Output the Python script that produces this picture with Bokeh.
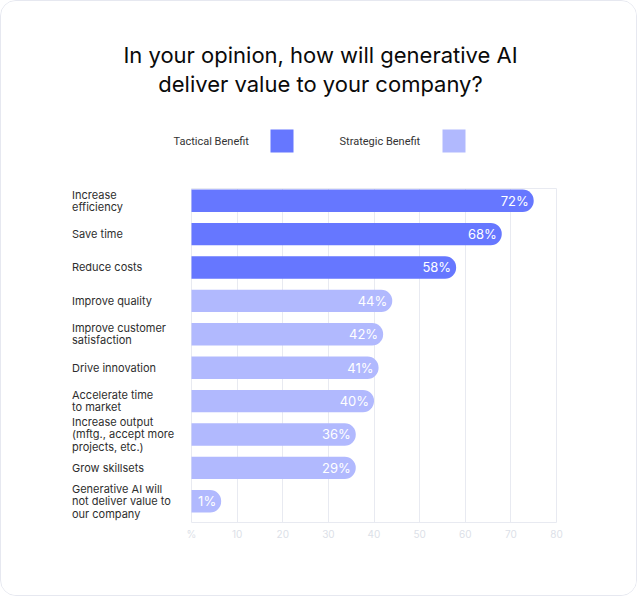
from bokeh.plotting import figure
from bokeh.models import Range1d, FixedTicker, ColumnDataSource, Grid
from bokeh.core.properties import value
from bokeh.embed import file_html
from bokeh.resources import INLINE

# ---- data ----
categories = [
    "Increase\nefficiency",
    "Save time",
    "Reduce costs",
    "Improve quality",
    "Improve customer\nsatisfaction",
    "Drive innovation",
    "Accelerate time\nto market",
    "Increase output\n(mftg., accept more\nprojects, etc.)",
    "Grow skillsets",
    "Generative AI will\nnot deliver value to\nour company",
]
percent_labels = [72, 68, 58, 44, 42, 41, 40, 36, 29, 1]
# bar lengths as drawn in the picture (they do not all equal the printed %)
bar_lengths = [75, 68, 58, 44, 42, 41, 40, 36, 36, 6.5]
benefit = ["Tactical", "Tactical", "Tactical", "Strategic", "Strategic",
           "Strategic", "Strategic", "Strategic", "Strategic", "Strategic"]
legend_labels = ["Tactical Benefit", "Strategic Benefit"]
x_ticks = [0, 10, 20, 30, 40, 50, 60, 70, 80]
x_tick_labels = ["%", "10", "20", "30", "40", "50", "60", "70", "80"]
grid_ticks = [10, 20, 30, 40, 50, 60, 70]
title_text = "In your opinion, how will generative AI\ndeliver value to your company?"

TACT = "#6677ff"
STRAT = "#b1b9fe"
GRID = "#e8eaf1"
colors = [TACT if b == "Tactical" else STRAT for b in benefit]

# ---- layout (page pixels) ----
W, H = 637, 596          # + 1px css border each side -> 639 x 598
OX, OY = 1, 1            # page offset of figure content
FX0, FX1, FY0, FY1 = 191, 556, 188, 522   # plot area on page
PX_X = (FX1 - FX0) / 80.0
PX_Y = (FY1 - FY0) / 10.0


def xd(px):
    return (px - FX0) / PX_X


def yd(py):
    return (py - FY0) / PX_Y


frame_bottom_px = FY1 - OY          # frame spans figure y 0..frame_bottom_px
p = figure(width=W, height=H, output_backend="svg", toolbar_location=None,
           x_range=Range1d(xd(OX), xd(OX + W)),
           y_range=Range1d(10, yd(OY)),
           y_axis_location=None,
           min_border_left=0, min_border_right=0, min_border_top=0,
           min_border_bottom=H - frame_bottom_px)
p.styles = {"border": "1px solid #e6e8f0", "border-radius": "16px",
            "overflow": "hidden"}
p.background_fill_color = "white"
p.border_fill_color = "white"
p.outline_line_color = None

# grid
p.xgrid.ticker = FixedTicker(ticks=grid_ticks)
p.xgrid.grid_line_color = GRID
p.ygrid.grid_line_color = None
if "cross_bounds" in Grid.properties():
    p.xgrid.cross_bounds = (0, 10)
else:
    p.xgrid.grid_line_color = None
    p.segment(x0=grid_ticks, x1=grid_ticks, y0=0, y1=10, line_color=GRID)

# plot-area outline (top, left, right)
p.quad(left=0, right=80, top=0, bottom=10, fill_color=None,
       line_color=GRID, line_width=1)

# x axis
p.xaxis.bounds = (0, 80)
p.xaxis.ticker = FixedTicker(ticks=x_ticks)
p.xaxis.major_label_overrides = {t: l for t, l in zip(x_ticks, x_tick_labels)}
p.xaxis.axis_line_color = GRID
p.xaxis.major_tick_line_color = None
p.xaxis.major_tick_out = 0
p.xaxis.major_tick_in = 0
p.xaxis.minor_tick_line_color = None
p.xaxis.major_label_text_color = "#dcdfe8"
p.xaxis.major_label_text_font = "Inter"
p.xaxis.major_label_text_font_size = "10px"
p.xaxis.major_label_standoff = 5

rows = list(range(len(categories)))
centers = [r + 0.365 for r in rows]
src = ColumnDataSource(dict(y=centers, right=bar_lengths, color=colors, cat=categories,
                            txt=[f"{v}%" for v in percent_labels]))
p.hbar(y="y", left=0, right="right", height=0.67, fill_color="color",
       line_color=None, border_radius=(0, 11, 11, 0), source=src)
p.text(x="right", y="y", text="txt", source=src, x_offset=-5,
       text_align="right", text_baseline="middle", text_color="white",
       text_font=value("Inter"), text_font_size="13px")

# category labels
p.text(x=xd(71.5), y="y", text="cat", source=src, text_align="left",
       text_baseline="middle", text_font=value("Inter"),
       text_font_size="11px", text_color="#2e2e2e", text_line_height=0.88)

# title
p.text(x=[xd(320)], y=[yd(69)], text=[title_text], text_align="center",
       text_baseline="middle", text_font=value("Inter"),
       text_font_size="22px", text_color="#0a0a0a", text_line_height=1.08)

# legend
p.text(x=[xd(173), xd(339)], y=[yd(140.5)] * 2, text=legend_labels,
       text_align="left", text_baseline="middle", text_font=value("Roboto"),
       text_font_size="11px", text_color="#333333")
p.quad(left=[xd(270), xd(442)], right=[xd(293), xd(465)],
       top=[yd(129)] * 2, bottom=[yd(152)] * 2,
       fill_color=[TACT, STRAT], line_color=None)

open("out.html", "w").write(file_html(p, INLINE))
